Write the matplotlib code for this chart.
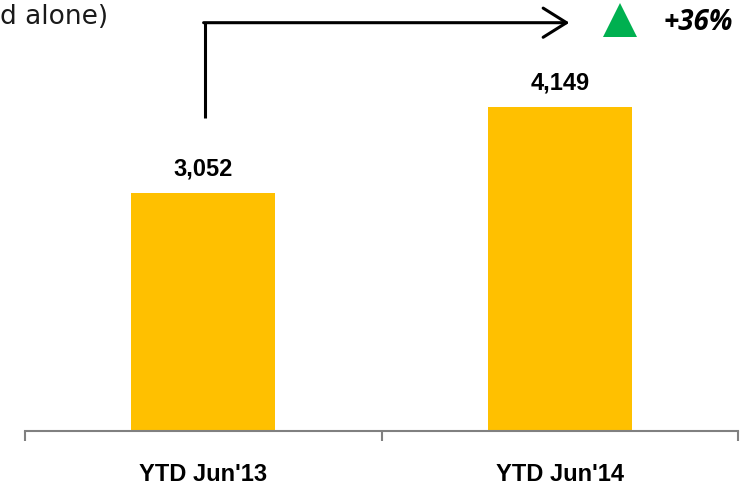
import matplotlib.pyplot as plt
from matplotlib.patches import FancyArrowPatch

categories = ["YTD Jun'13", "YTD Jun'14"]
values = [3052, 4149]
growth_label = "+36%"
title_tail = "d alone)"

BAR_COLOR = "#FFC000"
UP_GREEN = "#00B050"

fig = plt.figure(figsize=(7.49, 4.91), dpi=100)
ax = fig.add_axes([25 / 749, 60 / 491, 713 / 749, 431 / 491])

x = list(range(len(categories)))
ax.bar(x, values, width=0.405, color=BAR_COLOR, zorder=2)

for xi, v in zip(x, values):
    ax.annotate(f"{v:,}", (xi, v), xytext=(0, 9), textcoords="offset points",
                ha="center", va="bottom", fontsize=17, fontweight="bold",
                family="Liberation Sans", color="black")

ax.set_xlim(-0.5, 1.5)
ax.set_ylim(0, 5526)

# bottom axis only, with ticks at the category boundaries
for side in ("top", "left", "right"):
    ax.spines[side].set_visible(False)
ax.spines["bottom"].set_color("#808080")
ax.spines["bottom"].set_linewidth(1.5)
ax.set_yticks([])
ax.set_xticks([-0.5, 0.5, 1.5])
ax.set_xticklabels([])
ax.tick_params(axis="x", direction="out", length=7, width=1.5, color="#808080")
for xi, lab in zip(x, categories):
    ax.text(xi, -0.102, lab, transform=ax.get_xaxis_transform(), ha="center", va="center",
            fontsize=17, fontweight="bold", family="Liberation Sans")

# growth arrow from the first bar to the second
y_top = 5235
ax.plot([0.004, 0.004], [4015, y_top], color="black", lw=2.2, clip_on=False,
        solid_capstyle="butt")
arrow = FancyArrowPatch((0.004 - 0.003, y_top), (1.027, y_top),
                        arrowstyle="->,head_length=1.2,head_width=0.75",
                        color="black", lw=2.2, mutation_scale=14, clip_on=False,
                        shrinkA=0, shrinkB=0)
ax.add_patch(arrow)

ax.plot([1.169], [5270], marker="^", ms=24, color=UP_GREEN, clip_on=False,
        markeredgewidth=0)
fig.text(664 / 749, 1 - 22 / 491, growth_label, ha="left", va="center",
         fontsize=20, fontweight="bold", fontstyle="italic", family="Open Sans")

fig.text(0 / 749, 1 - 17 / 491, title_tail, ha="left", va="center", fontsize=19,
         family="DejaVu Sans", color="#1a1a1a")

fig.savefig("out.png", dpi=100)
